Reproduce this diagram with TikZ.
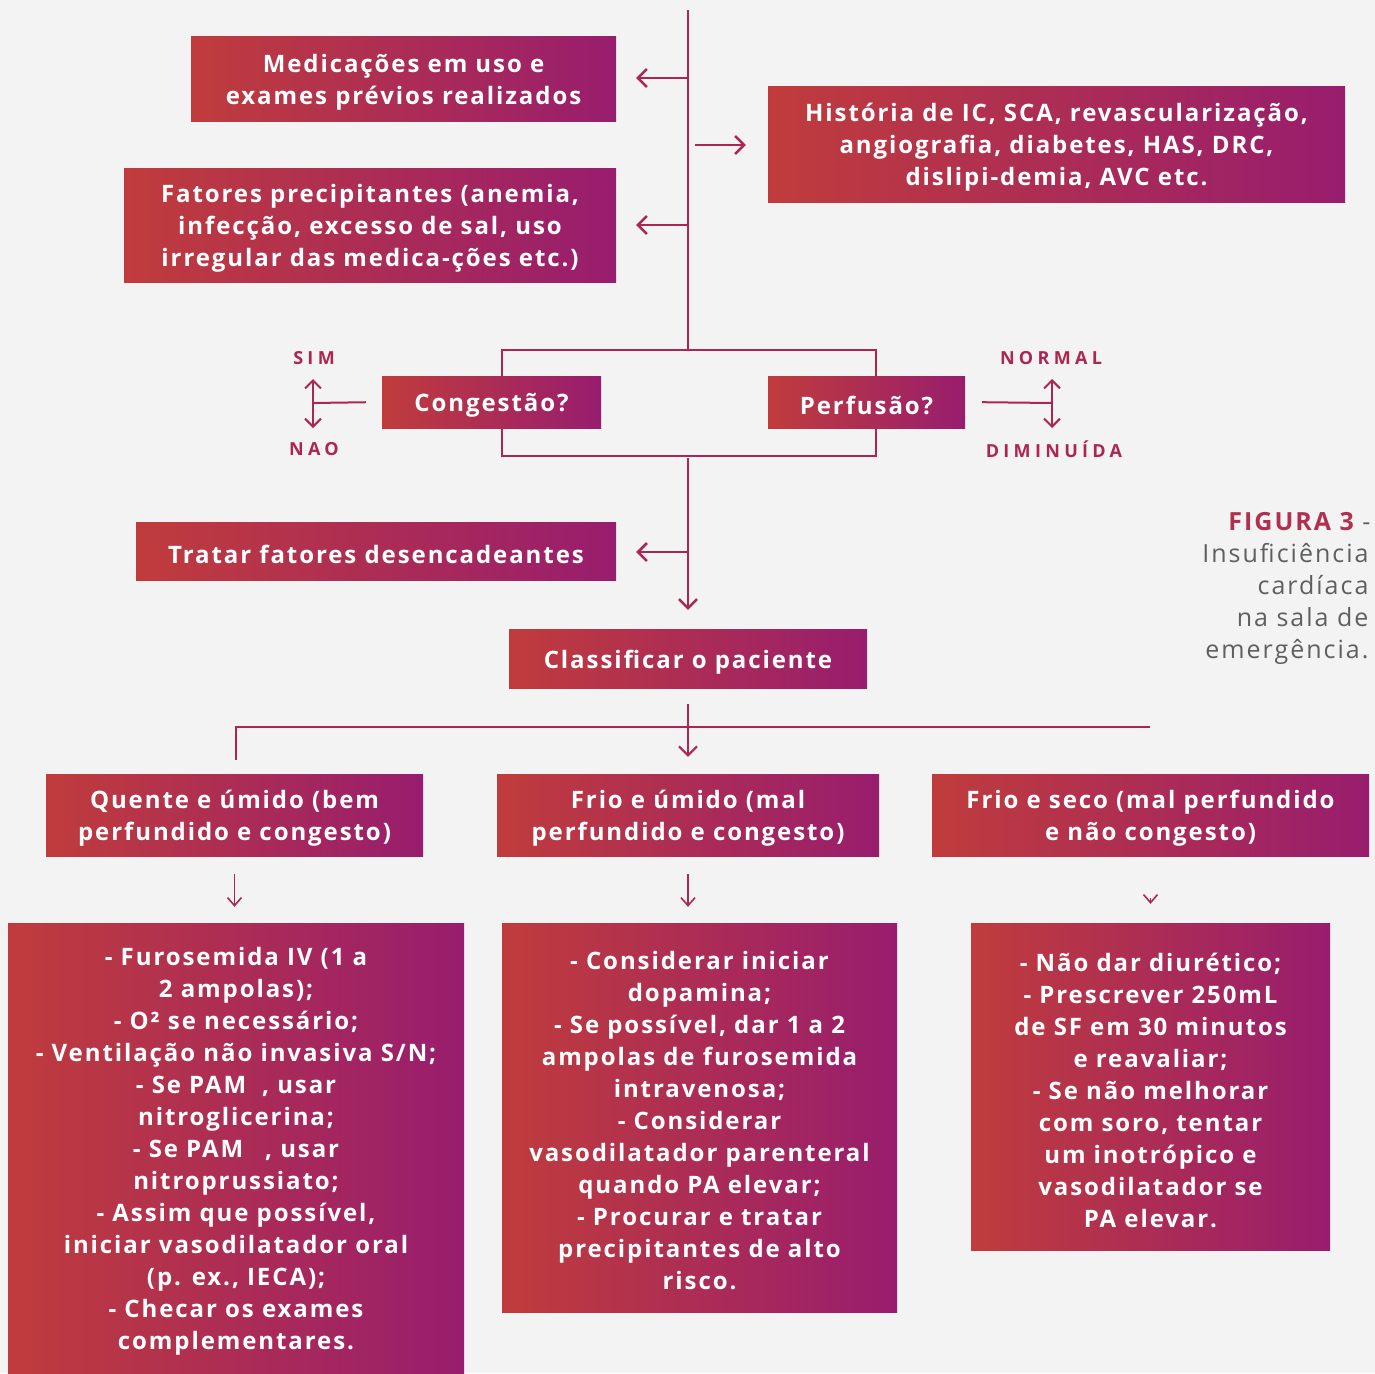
\documentclass[tikz,border=0pt]{standalone}
\usepackage{fontspec}
\setmainfont{Open Sans}
\newfontfamily\bxfont{Open Sans}[LetterSpace=8]
\newfontfamily\capfont{Open Sans}[LetterSpace=8]
\newfontfamily\labfont{Open Sans}[LetterSpace=24]
\usetikzlibrary{arrows.meta}
\definecolor{cA}{RGB}{192,60,60}
\definecolor{cB}{RGB}{152,29,110}
\definecolor{lnC}{RGB}{172,38,82}
\definecolor{bgC}{RGB}{243,243,243}
\definecolor{capC}{RGB}{95,95,95}
\tikzset{
  gbox/.style={left color=cA,right color=cB,draw=none,inner sep=0pt},
  gtxt/.style={inner sep=0pt,align=center,text=white,
    font=\bxfont\bfseries\fontsize{24}{32}\selectfont},
  tipA/.style={-{Straight Barb[length=9pt,width=18pt]}},
  arr/.style={draw=lnC,line width=2.5pt,tipA},
  darr/.style={draw=lnC,line width=2pt,{Straight Barb[length=8pt,width=16pt]}-{Straight Barb[length=8pt,width=16pt]}},
  sarr/.style={draw=lnC,line width=1.6pt,-{Straight Barb[length=8pt,width=14pt]}},
  lnS/.style={draw=lnC,line width=2.5pt},
  labS/.style={text=lnC,font=\labfont\bfseries\fontsize{18}{20}\selectfont},
  captxt/.style={anchor=base east,text=capC,font=\capfont\fontsize{25}{32}\selectfont}
}
% \gbx{name}{center}{width}{height}{text}
\newcommand\gbx[5]{%
  \node[gbox,minimum width=#3,minimum height=#4] (#1) at (#2) {};
  \node[gtxt,yshift=-3.5pt] (#1-t) at (#1.center) {#5};}
\begin{document}
\begin{tikzpicture}[x=1pt,y=-1pt]
\fill[bgC] (0,0) rectangle (1375,1373);
\useasboundingbox (0,0) rectangle (1375,1373);

% frame behind the two question boxes
\coordinate (fr1) at (502,350);
\coordinate (fr2) at (876,456);
\draw[draw=lnC,line width=2pt] (fr1) rectangle (fr2);

% boxes
\gbx{med}{403.5,78.5}{425pt}{85pt}{Medicações em uso e\\exames prévios realizados}
\gbx{hist}{1056.5,144}{577pt}{116pt}{História de IC, SCA, revascularização,\\angiografia, diabetes, HAS, DRC,\\dislipi-demia, AVC etc.}
\gbx{fat}{370,225}{492pt}{114pt}{Fatores precipitantes (anemia,\\infecção, excesso de sal, uso\\irregular das medica-ções etc.)}
\gbx{cong}{491.5,402}{219pt}{52pt}{Congestão?}
\gbx{perf}{866.5,402}{197pt}{52pt}{Perfusão?}
\gbx{trat}{376,551}{480pt}{58pt}{Tratar fatores desencadeantes}
\gbx{class}{688,658.5}{358pt}{59pt}{Classificar o paciente}
\gbx{q}{234.5,815}{377pt}{82pt}{Quente e úmido (bem\\perfundido e congesto)}
\gbx{fu}{688,815}{382pt}{82pt}{Frio e úmido (mal\\perfundido e congesto)}
\gbx{fs}{1150.5,815}{437pt}{82pt}{Frio e seco (mal perfundido\\e não congesto)}
\gbx{bl}{236,1148}{456pt}{450pt}{- Furosemida IV (1 a\\2 ampolas);\\- O² se necessário;\\- Ventilação não invasiva S/N;\\- Se PAM\hspace{16pt}, usar\\nitroglicerina;\\- Se PAM\hspace{22pt}, usar\\nitroprussiato;\\- Assim que possível,\\iniciar vasodilatador oral\\(p. ex., IECA);\\- Checar os exames\\complementares.}
\gbx{bm}{699.5,1117.5}{395pt}{389pt}{- Considerar iniciar\\dopamina;\\- Se possível, dar 1 a 2\\ampolas de furosemida\\intravenosa;\\- Considerar\\vasodilatador parenteral\\quando PA elevar;\\- Procurar e tratar\\precipitantes de alto\\risco.}
\gbx{br}{1150.5,1086.5}{359pt}{327pt}{- Não dar diurético;\\- Prescrever 250mL\\de SF em 30 minutos\\e reavaliar;\\- Se não melhorar\\com soro, tentar\\um inotrópico e\\vasodilatador se\\PA elevar.}

% main spine
\coordinate (top) at (688,10);
\coordinate (ftop) at (688,350);
\coordinate (fbot) at (688,458);
\coordinate (m1) at (688,78);
\coordinate (m2) at (695,145);
\coordinate (m3) at (688,225);
\coordinate (m4) at (688,552);
\draw[lnS] (top) -- (ftop);
\draw[arr,shorten >=20pt] (m1) -- (med.east |- m1);
\draw[arr,shorten >=22pt] (m2) -- (hist.west |- m2);
\draw[arr,shorten >=20pt] (m3) -- (fat.east |- m3);
\draw[arr,shorten >=19pt] (fbot) -- (class.north);
\draw[arr,shorten >=20pt] (m4) -- (trat.east |- m4);

% congestion / perfusion choices
\coordinate (cj) at (313,403);
\coordinate (cu) at (313,379);
\coordinate (cd) at (313,428);
\draw[draw=lnC,line width=2pt,shorten <=16pt] (cong.west) -- (cj);
\draw[darr] (cu) -- (cd);
\node[labS] (sim) at (314,358) {SIM};
\node[labS] (nao) at (314,449) {NAO};
\coordinate (pj) at (1052,403);
\coordinate (pu) at (1052,379);
\coordinate (pd) at (1052,428);
\draw[draw=lnC,line width=2pt,shorten <=17pt] (perf.east) -- (pj);
\draw[darr] (pu) -- (pd);
\node[labS] (norm) at (1051,358) {NORMAL};
\node[labS] (dimi) at (1054,449) {DIMINUÍDA};

% classification branching
\coordinate (h1) at (236,727);
\coordinate (h2) at (1150,727);
\coordinate (h1d) at (236,760);
\draw[draw=lnC,line width=1.5pt] (h1d) -- (h1) -- (h2);
\draw[arr,line width=2pt,shorten <=16pt,shorten >=17pt] (class.south) -- (fu.north);
\draw[sarr,shorten <=18pt,shorten >=16pt] (q.south) -- (q.south |- bl.north);
\draw[sarr,shorten <=18pt,shorten >=16pt] (fu.south) -- (fu.south |- bm.north);
\draw[sarr,shorten <=42pt,shorten >=19pt] (fs.south) -- (fs.south |- br.north);

% caption
\node[captxt] (c0) at (1374,530) {\textcolor{cA!60!cB}{\bfseries FIGURA 3} -};
\node[captxt] (c1) at (1372,562) {Insuficiência};
\node[captxt] (c2) at (1372,594) {cardíaca};
\node[captxt] (c3) at (1372,626) {na sala de};
\node[captxt] (c4) at (1372,658) {emergência.};
\end{tikzpicture}
\end{document}
